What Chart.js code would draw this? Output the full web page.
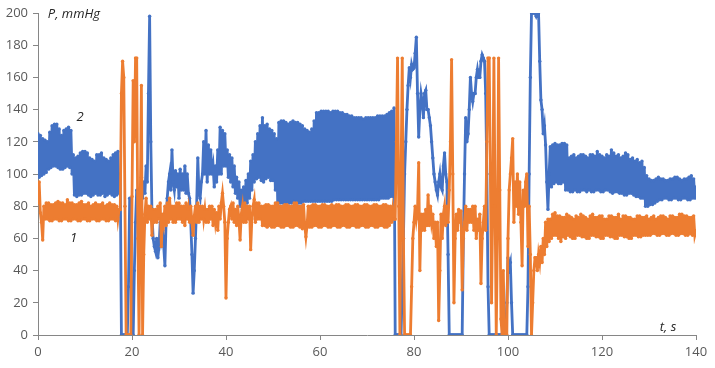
<!DOCTYPE html>
<html>
<head>
<meta charset="utf-8">
<script src="https://cdn.jsdelivr.net/npm/chart.js@4/dist/chart.umd.min.js"></script>
<style>
html,body{margin:0;padding:0;background:#fff;}
#wrap{width:715px;height:368px;position:relative;}
</style>
</head>
<body>
<div id="wrap"><canvas id="c" width="715" height="368"></canvas></div>
<script>
// time, s (sampled every 0.25 s)
const times = [
0,0.25,0.5,0.75,1,1.25,1.5,1.75,2,2.25,2.5,2.75,3,3.25,3.5,3.75,4,4.25,4.5,4.75,
5,5.25,5.5,5.75,6,6.25,6.5,6.75,7,7.25,7.5,7.75,8,8.25,8.5,8.75,9,9.25,9.5,9.75,
10,10.25,10.5,10.75,11,11.25,11.5,11.75,12,12.25,12.5,12.75,13,13.25,13.5,13.75,14,14.25,14.5,14.75,
15,15.25,15.5,15.75,16,16.25,16.5,16.75,17,17.25,17.5,17.75,18,18.25,18.5,18.75,19,19.25,19.5,19.75,
20,20.25,20.5,20.75,21,21.25,21.5,21.75,22,22.25,22.5,22.75,23,23.25,23.5,23.75,24,24.25,24.5,24.75,
25,25.25,25.5,25.75,26,26.25,26.5,26.75,27,27.25,27.5,27.75,28,28.25,28.5,28.75,29,29.25,29.5,29.75,
30,30.25,30.5,30.75,31,31.25,31.5,31.75,32,32.25,32.5,32.75,33,33.25,33.5,33.75,34,34.25,34.5,34.75,
35,35.25,35.5,35.75,36,36.25,36.5,36.75,37,37.25,37.5,37.75,38,38.25,38.5,38.75,39,39.25,39.5,39.75,
40,40.25,40.5,40.75,41,41.25,41.5,41.75,42,42.25,42.5,42.75,43,43.25,43.5,43.75,44,44.25,44.5,44.75,
45,45.25,45.5,45.75,46,46.25,46.5,46.75,47,47.25,47.5,47.75,48,48.25,48.5,48.75,49,49.25,49.5,49.75,
50,50.25,50.5,50.75,51,51.25,51.5,51.75,52,52.25,52.5,52.75,53,53.25,53.5,53.75,54,54.25,54.5,54.75,
55,55.25,55.5,55.75,56,56.25,56.5,56.75,57,57.25,57.5,57.75,58,58.25,58.5,58.75,59,59.25,59.5,59.75,
60,60.25,60.5,60.75,61,61.25,61.5,61.75,62,62.25,62.5,62.75,63,63.25,63.5,63.75,64,64.25,64.5,64.75,
65,65.25,65.5,65.75,66,66.25,66.5,66.75,67,67.25,67.5,67.75,68,68.25,68.5,68.75,69,69.25,69.5,69.75,
70,70.25,70.5,70.75,71,71.25,71.5,71.75,72,72.25,72.5,72.75,73,73.25,73.5,73.75,74,74.25,74.5,74.75,
75,75.25,75.5,75.75,76,76.25,76.5,76.75,77,77.25,77.5,77.75,78,78.25,78.5,78.75,79,79.25,79.5,79.75,
80,80.25,80.5,80.75,81,81.25,81.5,81.75,82,82.25,82.5,82.75,83,83.25,83.5,83.75,84,84.25,84.5,84.75,
85,85.25,85.5,85.75,86,86.25,86.5,86.75,87,87.25,87.5,87.75,88,88.25,88.5,88.75,89,89.25,89.5,89.75,
90,90.25,90.5,90.75,91,91.25,91.5,91.75,92,92.25,92.5,92.75,93,93.25,93.5,93.75,94,94.25,94.5,94.75,
95,95.25,95.5,95.75,96,96.25,96.5,96.75,97,97.25,97.5,97.75,98,98.25,98.5,98.75,99,99.25,99.5,99.75,
100,100.25,100.5,100.75,101,101.25,101.5,101.75,102,102.25,102.5,102.75,103,103.25,103.5,103.75,104,104.25,104.5,104.75,
105,105.25,105.5,105.75,106,106.25,106.5,106.75,107,107.25,107.5,107.75,108,108.25,108.5,108.75,109,109.25,109.5,109.75,
110,110.25,110.5,110.75,111,111.25,111.5,111.75,112,112.25,112.5,112.75,113,113.25,113.5,113.75,114,114.25,114.5,114.75,
115,115.25,115.5,115.75,116,116.25,116.5,116.75,117,117.25,117.5,117.75,118,118.25,118.5,118.75,119,119.25,119.5,119.75,
120,120.25,120.5,120.75,121,121.25,121.5,121.75,122,122.25,122.5,122.75,123,123.25,123.5,123.75,124,124.25,124.5,124.75,
125,125.25,125.5,125.75,126,126.25,126.5,126.75,127,127.25,127.5,127.75,128,128.25,128.5,128.75,129,129.25,129.5,129.75,
130,130.25,130.5,130.75,131,131.25,131.5,131.75,132,132.25,132.5,132.75,133,133.25,133.5,133.75,134,134.25,134.5,134.75,
135,135.25,135.5,135.75,136,136.25,136.5,136.75,137,137.25,137.5,137.75,138,138.25,138.5,138.75,139,139.25,139.5,139.75,
140
];

// curve 2 (blue), mmHg — four samples per second
const pressure2 = [
125,98,124,99, 122,100,121,101, 120,103,126,104, 130,105,131,105, 131,104,128,103,
124,103,127,104, 128,105,129,104, 127,100,112,87, 110,86,111,87, 113,87,114,88,
114,88,113,87, 110,86,109,87, 108,88,112,87, 112,87,113,88, 110,86,109,87,
108,88,110,87, 112,86,113,87, 114,88,100,0, 0,0,0,0, 0,30,85,60,
0,0,40,70, 90,75,85,80, 98,85,95,88, 105,95,150,198, 120,75,60,55,
52,60,48,55, 70,60,65,55, 43,70,85,95, 100,90,115,95, 90,102,92,100,
85,103,90,100, 90,105,88,100, 88,85,70,50, 26,40,60,80, 110,88,85,95,
100,120,100,127, 95,118,100,115, 100,105,92,105, 95,115,100,129, 100,127,105,125,
105,115,98,112, 95,110,92,105, 88,98,85,95, 80,90,78,92, 78,96,82,100,
85,108,90,112, 95,120,97,125, 98,130,96,135, 95,130,97,131, 98,128,96,127,
96,125,90,122, 82,132,82,133, 82,133,82,132, 82,131,82,132, 82,133,83,132,
83,132,82,131, 82,130,83,128, 83,127,83,126, 83,128,83,133, 83,138,83,138,
83,139,83,139, 83,139,83,139, 83,138,83,139, 84,139,84,139, 84,138,84,138,
84,137,84,137, 84,136,84,136, 84,135,84,135, 84,135,84,135, 84,134,84,135,
84,135,84,135, 84,135,84,135, 84,136,84,136, 85,136,85,136, 85,137,85,138,
86,139,86,141, 0,0,0,0, 0,0,30,60, 100,120,140,155, 166,160,168,165,
166,175,185,150, 123,140,150,145, 135,150,152,140, 140,135,130,120, 110,100,95,90,
87,95,100,92, 90,105,113,100, 95,50,0,0, 0,0,0,0, 0,0,0,0,
0,0,60,100, 135,120,125,140, 160,150,145,150, 150,160,165,160, 160,170,174,172,
170,150,100,30, 0,0,0,0, 0,0,0,0, 0,0,0,0, 10,0,0,20,
48,42,45,20, 0,0,0,0, 0,0,0,0, 0,0,0,0, 0,30,100,160,
200,200,200,200, 198,200,200,170, 146,140,125,130, 118,95,78,100, 117,92,118,94,
119,95,118,94, 118,94,119,95, 119,90,118,90, 110,89,111,89, 112,90,110,89,
111,89,112,90, 112,90,111,89, 110,90,112,89, 112,89,111,90, 114,90,112,89,
111,89,110,90, 112,90,111,89, 115,88,113,89, 111,89,112,88, 110,88,111,87,
113,87,112,88, 109,88,110,87, 108,86,109,86, 107,85,108,85, 104,80,99,80,
97,81,96,81, 96,82,97,83, 98,84,97,84, 97,85,96,85, 96,84,97,84,
97,85,98,85, 98,84,97,84, 96,85,97,85, 97,84,98,84, 99,85,97,85,
92
];

// curve 1 (orange), mmHg — four samples per second
const pressure1 = [
82,95,76,70, 59,80,72,82, 72,82,71,81, 71,81,72,82, 72,83,71,82,
71,82,72,81, 72,84,71,82, 71,82,72,81, 72,81,71,82, 71,83,72,81,
72,81,71,82, 71,80,72,81, 72,82,71,81, 71,81,72,82, 72,80,71,81,
71,82,72,81, 72,81,71,80, 72,78,78,150, 170,160,80,0, 0,0,0,0,
86,158,120,172, 172,60,0,80, 155,0,50,75, 85,70,80,72, 80,62,78,70,
78,70,80,72, 82,55,75,70, 80,68,82,70, 85,72,80,70, 80,70,82,72,
82,72,80,70, 80,68,82,72, 78,70,80,70, 62,74,80,70, 82,70,80,72,
80,72,78,70, 78,70,80,72, 80,68,78,70, 76,65,80,72, 82,88,80,70,
23,60,70,78, 80,72,82,70, 78,68,80,72, 59,75,80,70, 82,70,80,72,
80,53,72,80, 84,70,82,72, 82,72,80,68, 80,68,81,67, 81,68,80,67,
80,67,82,68, 82,68,80,67, 80,67,81,68, 81,68,80,67, 80,67,82,68,
82,68,80,67, 80,66,81,68, 61,68,80,67, 80,67,81,68, 81,68,80,67,
80,67,81,68, 81,68,80,67, 80,67,81,68, 80,68,81,67, 81,67,80,68,
80,68,81,67, 81,67,80,68, 80,68,81,67, 81,67,80,68, 80,68,81,67,
81,67,80,68, 80,68,81,67, 81,67,80,68, 80,68,81,67, 81,67,80,68,
80,70,78,72, 72,120,172,80, 0,100,172,60, 0,0,0,0, 0,0,30,60,
70,80,72,78, 107,40,75,65, 75,65,78,68, 87,68,80,70, 75,60,70,55,
70,9,40,75, 60,75,80,68, 80,70,90,120, 171,100,20,60, 75,65,78,70,
77,28,60,70, 80,65,78,70, 78,70,80,65, 80,60,72,65, 75,32,60,70,
80,65,120,172, 172,100,20,80, 172,80,0,60, 172,90,10,0, 40,0,0,0,
60,90,100,110, 122,70,95,80, 100,75,95,70, 43,90,80,95, 100,55,80,50,
0,20,40,48, 48,40,50,45, 55,45,60,50, 70,55,72,58, 72,60,75,62,
76,62,74,60, 74,58,73,61, 73,60,75,62, 74,61,73,60, 72,60,74,62,
73,62,75,61, 74,61,73,60, 72,60,74,62, 75,62,73,61, 73,61,74,60,
74,60,72,62, 72,62,74,61, 74,61,73,60, 73,60,75,62, 72,62,74,61,
74,61,73,60, 73,60,72,62, 72,62,74,61, 74,61,73,62, 73,62,74,62,
72,62,73,63, 74,63,72,62, 73,62,74,63, 74,63,73,62, 72,62,74,63,
74,63,73,62, 73,62,75,63, 75,63,74,62, 74,62,73,63, 73,62,74,62,
65
];

const yTicks = [0,20,40,60,80,100,120,140,160,180,200];
const xTicks = [0,20,40,60,80,100,120,140];

const BLUE = '#4472C4';
const ORANGE = '#ED7D31';

function pts(vals){ return vals.map((v,i)=>({x:times[i], y:v})); }

const labelsPlugin = {
  id:'labels',
  afterDatasetsDraw(chart){
    const {ctx, scales:{x,y}} = chart;
    ctx.save();
    ctx.fillStyle = '#262626';
    ctx.font = 'italic 13px "Open Sans", sans-serif';
    ctx.textBaseline = 'middle';
    ctx.textAlign = 'left';
    ctx.fillText('P, mmHg', x.getPixelForValue(2.1), y.getPixelForValue(199));
    ctx.fillText('t, s', x.getPixelForValue(132.3), y.getPixelForValue(4.5));
    ctx.fillText('2', x.getPixelForValue(8.2), y.getPixelForValue(135));
    ctx.fillText('1', x.getPixelForValue(6.8), y.getPixelForValue(60));
    ctx.restore();
  }
};

new Chart(document.getElementById('c'), {
  type:'line',
  data:{
    datasets:[
      {label:'1', data:pts(pressure1), borderColor:ORANGE, backgroundColor:ORANGE,
       borderWidth:2.8, pointRadius:1.7, pointHoverRadius:0, pointBorderWidth:0, order:0, tension:0},
      {label:'2', data:pts(pressure2), borderColor:BLUE, backgroundColor:BLUE,
       borderWidth:2.8, pointRadius:1.7, pointHoverRadius:0, pointBorderWidth:0, order:1, tension:0}
    ]
  },
  options:{
    responsive:false,
    animation:false,
    events:[],
    layout:{padding:{top:13,right:19,left:0,bottom:0}},
    plugins:{legend:{display:false}, tooltip:{enabled:false}},
    scales:{
      x:{
        type:'linear', min:0, max:140,
        afterBuildTicks(s){ s.ticks = xTicks.map(v=>({value:v})); },
        afterFit(s){ s.height = 33; },
        grid:{display:true, drawOnChartArea:false, drawTicks:true, tickLength:5, color:'#868686'},
        border:{display:true, color:'#868686', width:1},
        ticks:{font:{family:'"Open Sans", sans-serif', size:13}, color:'#595959', padding:4, maxRotation:0}
      },
      y:{
        type:'linear', min:0, max:200,
        afterBuildTicks(s){ s.ticks = yTicks.map(v=>({value:v})); },
        afterFit(s){ s.width = 38; },
        grid:{display:true, drawOnChartArea:false, drawTicks:true, tickLength:5, color:'#868686'},
        border:{display:true, color:'#868686', width:1},
        ticks:{font:{family:'"Open Sans", sans-serif', size:13}, color:'#595959', padding:5}
      }
    }
  },
  plugins:[labelsPlugin]
});
</script>
</body>
</html>
